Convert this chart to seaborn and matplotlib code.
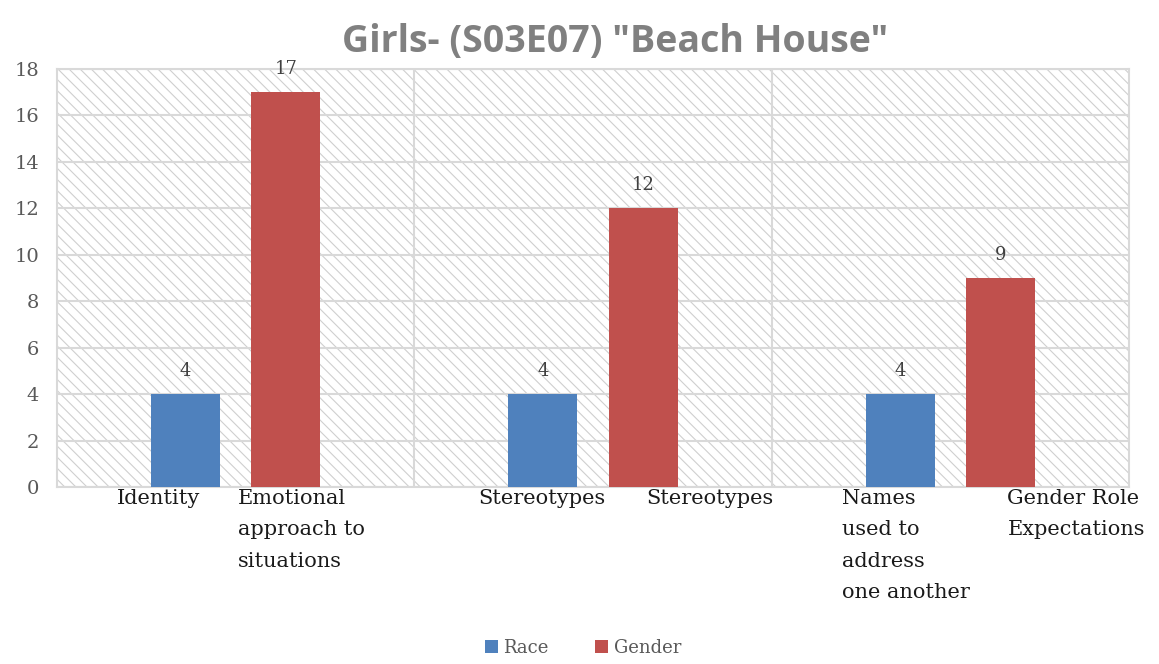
import matplotlib
matplotlib.use("Agg")
import matplotlib.pyplot as plt
import seaborn as sns
import pandas as pd

# ---- data ----
groups = ["G1", "G2", "G3"]
series = ["Race", "Gender"]
race_values = [4, 4, 4]
gender_values = [17, 12, 9]
race_labels = ["Identity", "Stereotypes", "Names\nused to\naddress\none another"]
gender_labels = ["Emotional\napproach to\nsituations", "Stereotypes", "Gender Role\nExpectations"]
title = 'Girls- (S03E07) "Beach House"'
yticks = list(range(0, 19, 2))

df = pd.DataFrame({
    "group": groups * 2,
    "series": ["Race"] * 3 + ["Gender"] * 3,
    "value": race_values + gender_values,
})

sns.set_style("white")
plt.rcParams["hatch.linewidth"] = 0.8
plt.rcParams["hatch.color"] = "#cfcfcf"

fig = plt.figure(figsize=(11.59, 6.64), dpi=100)
ax = fig.add_axes([0.0492, 0.2666, 0.9249, 0.6295])

# hatched background
ax.patch.set_facecolor("white")
ax.patch.set_hatch("\\\\\\")
ax.patch.set_edgecolor("#cfcfcf")

palette = {"Race": "#4F81BD", "Gender": "#C0504D"}
sns.barplot(data=df, x="group", y="value", hue="series", hue_order=series,
            palette=palette, saturation=1, width=0.56, gap=0.31, ax=ax, zorder=3,
            edgecolor="none", linewidth=0)

ax.set_xlim(-0.5, 2.5)
ax.set_ylim(0, 18)
ax.set_yticks(yticks)
ax.set_yticklabels([str(t) for t in yticks], family="DejaVu Serif", fontsize=14, color="#595959")
ax.tick_params(axis="y", length=0, pad=13)
ax.set_xticks([0.5, 1.5])
ax.set_xticklabels([])
ax.tick_params(axis="x", length=0)
ax.set_xlabel("")
ax.set_ylabel("")
ax.grid(True, axis="both", color="#d9d9d9", linewidth=1.5, zorder=1)
ax.set_axisbelow(True)
for s in ax.spines.values():
    s.set_color("#d9d9d9")
    s.set_linewidth(1.5)

for cont in ax.containers:
    ax.bar_label(cont, padding=10, fontsize=13, color="#404040", family="DejaVu Serif")

# category labels under each bar
race_off = [-0.332, -0.32, -0.302]
gender_off = [0.007, 0.148, 0.16]
for i in range(len(groups)):
    ax.text(i + race_off[i], -0.005, race_labels[i], transform=ax.get_xaxis_transform(),
            ha="left", va="top", fontsize=15, family="DejaVu Serif", color="#1a1a1a",
            linespacing=1.82)
    ax.text(i + gender_off[i], -0.005, gender_labels[i], transform=ax.get_xaxis_transform(),
            ha="left", va="top", fontsize=15, family="DejaVu Serif", color="#1a1a1a",
            linespacing=1.82)

fig.text(0.531, 0.937, title, ha="center", va="center", fontsize=27,
         fontweight="bold", color="#808080", family="Open Sans")

sns.move_legend(ax, "lower center", bbox_to_anchor=(0.503, -0.014), bbox_transform=fig.transFigure,
                ncol=2, frameon=False, title=None, fontsize=13, handlelength=0.7,
                handleheight=0.7, columnspacing=2.6, handletextpad=0.3)
leg = ax.get_legend()
for t in leg.get_texts():
    t.set_color("#595959")
    t.set_family("DejaVu Serif")

fig.savefig("out.png", dpi=100)
